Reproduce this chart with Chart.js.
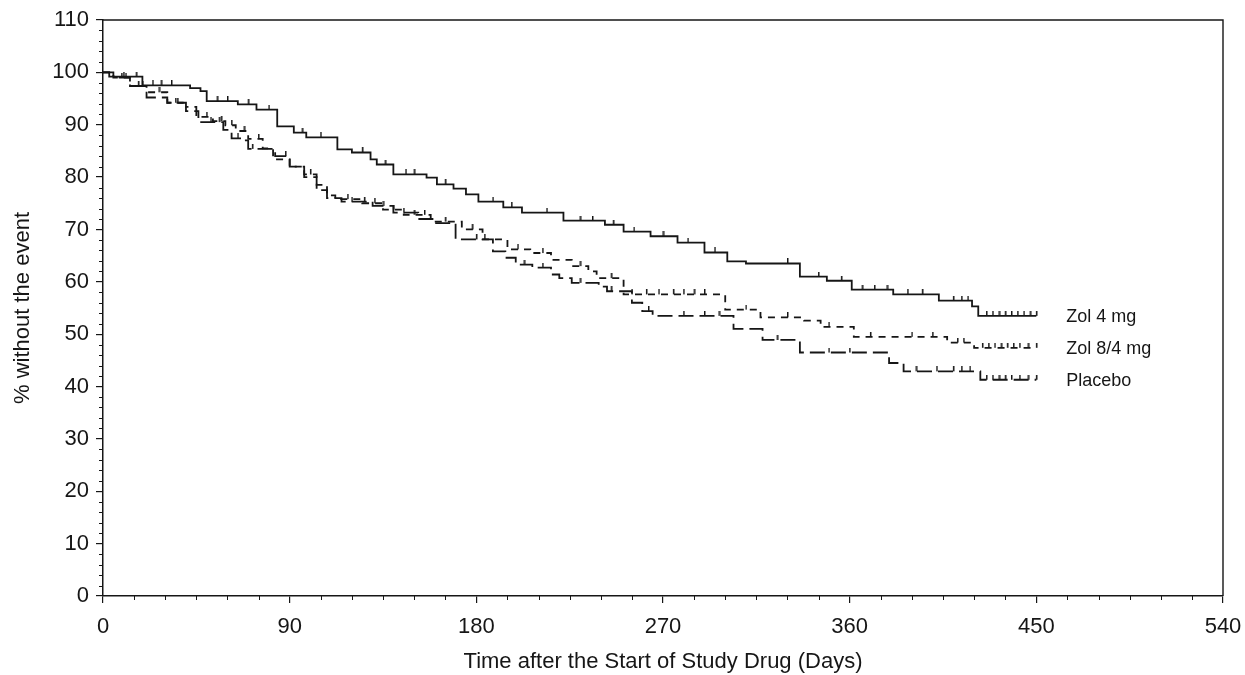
<!DOCTYPE html>
<html>
<head>
<meta charset="utf-8">
<script src="https://cdn.jsdelivr.net/npm/chart.js@4"></script>
<style>
  html, body { margin: 0; padding: 0; background: #fff; }
  #wrap { width: 1245px; height: 675px; }
</style>
</head>
<body>
<div id="wrap"><canvas id="kmChart" width="1245" height="675"></canvas></div>
<script>
// ===============================
// Data
// ===============================
const seriesNames = ["Zol 4 mg", "Zol 8/4 mg", "Placebo"];

const zol4Days = [0, 3, 19, 42, 47, 50, 65, 74, 84, 92, 98, 113, 120, 129, 132, 140, 156, 161, 169, 175, 181, 193, 202, 222, 242, 251, 264, 277, 290, 301, 310, 336, 349, 361, 381, 403, 419, 422, 450];
const zol4Pct = [100, 99.2, 97.5, 97.0, 96.4, 94.5, 93.9, 92.9, 89.7, 88.5, 87.6, 85.3, 84.7, 83.4, 82.4, 80.5, 79.9, 78.6, 77.8, 76.7, 75.3, 74.2, 73.2, 71.7, 70.9, 69.6, 68.7, 67.5, 65.6, 63.9, 63.5, 61.0, 60.2, 58.5, 57.6, 56.4, 55.3, 53.5, 53.5];
const zol4Censor = [10, 16, 24, 28, 33, 55, 60, 70, 80, 96, 105, 125, 136, 146, 150, 165, 188, 197, 214, 230, 236, 246, 256, 270, 282, 295, 330, 345, 356, 366, 372, 378, 388, 395, 410, 414, 417, 426, 429, 432, 435, 438, 441, 444, 447, 450];

const zol84Days = [0, 5, 13, 21, 31, 40, 45, 53, 59, 64, 70, 77, 82, 90, 97, 103, 108, 112, 125, 135, 145, 158, 173, 183, 195, 206, 216, 226, 234, 238, 251, 300, 317, 338, 346, 362, 407, 420, 450];
const zol84Pct = [100, 99, 97.4, 96.2, 94.2, 92.6, 91.5, 90.7, 89.9, 88.8, 87.3, 85.5, 83.4, 82.0, 80.5, 78.5, 76.5, 75.8, 75.0, 73.8, 72.8, 71.5, 70.0, 68.1, 66.2, 65.5, 64.2, 63.0, 62.0, 60.7, 57.6, 54.7, 53.2, 52.6, 51.4, 49.5, 48.4, 47.4, 47.4];
const zol84Censor = [9, 17, 27, 36, 50, 57, 62, 68, 75, 100, 118, 131, 140, 150, 155, 165, 178, 200, 212, 230, 245, 255, 262, 268, 275, 280, 285, 290, 310, 330, 350, 370, 390, 400, 412, 415, 424, 427, 430, 433, 436, 439, 442, 446, 450];

const placeboDays = [0, 5, 13, 21, 31, 40, 45, 46, 58, 62, 67, 70, 83, 90, 97, 103, 108, 115, 130, 140, 152, 160, 170, 188, 194, 199, 207, 216, 220, 226, 239, 243, 255, 260, 265, 304, 318, 336, 379, 386, 423, 450];
const placeboPct = [100, 99, 97.4, 95.2, 94.2, 93.4, 92.6, 90.5, 89.0, 87.4, 87.0, 85.4, 84.0, 82.0, 80.0, 77.5, 76.0, 75.3, 74.5, 73.2, 72.0, 71.2, 68.1, 65.8, 64.6, 63.3, 62.7, 61.4, 60.7, 59.8, 59.1, 58.2, 56.0, 54.4, 53.5, 51.0, 48.9, 46.5, 44.5, 42.9, 41.3, 41.3];
const placeboCensor = [11, 19, 35, 52, 56, 65, 72, 88, 120, 126, 135, 145, 180, 184, 203, 212, 230, 245, 263, 280, 290, 297, 325, 350, 360, 392, 402, 410, 414, 418, 426, 429, 432, 435, 438, 442, 446, 450];

const xTicks = [0, 90, 180, 270, 360, 450, 540];
const yTicks = [0, 10, 20, 30, 40, 50, 60, 70, 80, 90, 100, 110];

// ===============================
// Helpers
// ===============================
function toPoints(days, pct) {
  return days.map((d, i) => ({ x: d, y: pct[i] }));
}

// value of the step curve at time t
function stepValue(days, pct, t) {
  let v = pct[0];
  for (let i = 0; i < days.length; i++) {
    if (days[i] <= t) v = pct[i];
  }
  return v;
}

function censorPoints(days, pct, censor) {
  return censor.map((t) => ({ x: t, y: stepValue(days, pct, t) }));
}

const ink = "#161616";

// small upward tick used as the censor mark
const censorMark = document.createElement("canvas");
censorMark.width = 3;
censorMark.height = 10;
{
  const c = censorMark.getContext("2d");
  c.fillStyle = ink;
  c.fillRect(1, 0, 1.5, 5);
}

function curve(label, days, pct, dash) {
  return {
    label,
    data: toPoints(days, pct),
    showLine: true,
    stepped: "before",
    borderColor: ink,
    borderWidth: 1.8,
    borderDash: dash,
    pointRadius: 0,
    fill: false,
  };
}

function ticks(days, pct, censor) {
  return {
    data: censorPoints(days, pct, censor),
    showLine: false,
    pointStyle: censorMark,
    pointRadius: 3,
  };
}

// ===============================
// Plugins: box, minor ticks, end labels
// ===============================
const frame = {
  id: "frame",
  afterDraw(chart) {
    const { ctx, chartArea: a, scales } = chart;
    ctx.save();
    ctx.strokeStyle = ink;
    ctx.lineWidth = 1.4;
    ctx.beginPath();
    ctx.moveTo(a.left, a.top);
    ctx.lineTo(a.right, a.top);
    ctx.lineTo(a.right, a.bottom);
    ctx.stroke();

    // minor ticks
    ctx.lineWidth = 1;
    ctx.beginPath();
    for (let v = 0; v <= 110; v += 2) {
      if (v % 10 === 0) continue;
      const y = Math.round(scales.y.getPixelForValue(v)) + 0.5;
      ctx.moveTo(a.left - 4, y);
      ctx.lineTo(a.left, y);
    }
    for (let d = 0; d <= 540; d += 15) {
      if (d % 90 === 0) continue;
      const x = Math.round(scales.x.getPixelForValue(d)) + 0.5;
      ctx.moveTo(x, a.bottom);
      ctx.lineTo(x, a.bottom + 4);
    }
    ctx.stroke();

    // labels at the end of each curve
    const ends = [
      [zol4Days, zol4Pct],
      [zol84Days, zol84Pct],
      [placeboDays, placeboPct],
    ];
    ctx.fillStyle = ink;
    ctx.font = "18px 'Liberation Sans', Arial, sans-serif";
    ctx.textBaseline = "middle";
    ends.forEach(([d, p], i) => {
      const x = scales.x.getPixelForValue(d[d.length - 1]) + 30;
      const y = scales.y.getPixelForValue(p[p.length - 1]) + 1;
      ctx.fillText(seriesNames[i], x, y);
    });
    ctx.restore();
  },
};

// ===============================
// Chart
// ===============================
const font = "'Liberation Sans', Arial, sans-serif";

new Chart(document.getElementById("kmChart"), {
  type: "scatter",
  data: {
    datasets: [
      curve(seriesNames[0], zol4Days, zol4Pct, []),
      curve(seriesNames[1], zol84Days, zol84Pct, [7, 6]),
      curve(seriesNames[2], placeboDays, placeboPct, [15, 6]),
      ticks(zol4Days, zol4Pct, zol4Censor),
      ticks(zol84Days, zol84Pct, zol84Censor),
      ticks(placeboDays, placeboPct, placeboCensor),
    ],
  },
  options: {
    responsive: false,
    animation: false,
    layout: { padding: { top: 20, right: 22, left: 0, bottom: 0 } },
    plugins: {
      legend: { display: false },
      tooltip: { enabled: false },
    },
    scales: {
      x: {
        type: "linear",
        min: 0,
        max: 540,
        afterBuildTicks: (s) => { s.ticks = xTicks.map((v) => ({ value: v })); },
        afterFit: (s) => {
          s.height = 79;
          s.paddingLeft = 0;
          s.paddingRight = 0;
        },
        ticks: { color: ink, font: { family: font, size: 22 }, padding: 11 },
        grid: { drawOnChartArea: false, tickLength: 7, color: ink, lineWidth: 1.2 },
        border: { display: true, color: ink, width: 1.5 },
        title: {
          display: true,
          text: "Time after the Start of Study Drug (Days)",
          color: ink,
          font: { family: font, size: 22 },
          padding: { top: 0, bottom: 0 },
        },
      },
      y: {
        type: "linear",
        min: 0,
        max: 110,
        afterBuildTicks: (s) => { s.ticks = yTicks.map((v) => ({ value: v })); },
        afterFit: (s) => {
          s.width = 103;
          s.paddingTop = 0;
          s.paddingBottom = 0;
        },
        ticks: { color: ink, font: { family: font, size: 22 }, padding: 7 },
        grid: { drawOnChartArea: false, tickLength: 7, color: ink, lineWidth: 1.2 },
        border: { display: true, color: ink, width: 1.5 },
        title: {
          display: true,
          text: "% without the event",
          color: ink,
          font: { family: font, size: 22 },
          padding: { top: 10, bottom: 0 },
        },
      },
    },
  },
  plugins: [frame],
});
</script>
</body>
</html>
